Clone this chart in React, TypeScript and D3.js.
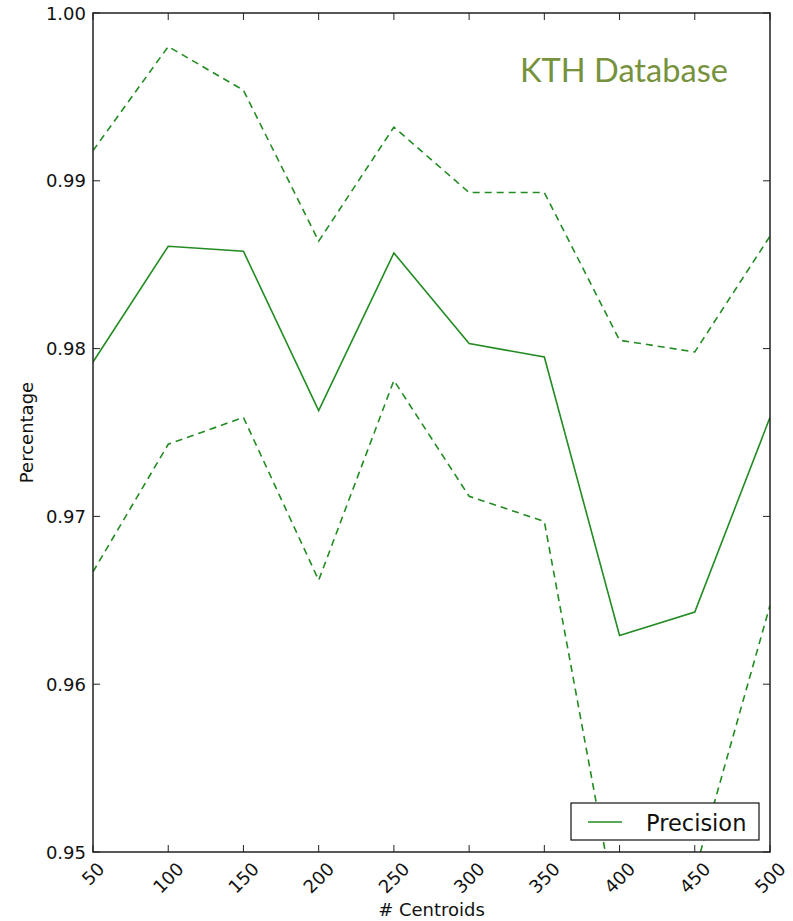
import React from "react";
import * as d3 from "d3";

const centroids = [50, 100, 150, 200, 250, 300, 350, 400, 450, 500];
const precisionMean = [0.9792, 0.9861, 0.9858, 0.9763, 0.9857, 0.9803, 0.9795, 0.9629, 0.9643, 0.9759];
const precisionUpper = [0.9918, 0.998, 0.9954, 0.9864, 0.9932, 0.9893, 0.9893, 0.9805, 0.9798, 0.9867];
const precisionLower = [0.9667, 0.9743, 0.9759, 0.9662, 0.9781, 0.9712, 0.9697, 0.9454, 0.9488, 0.9647];
const yTicks = [0.95, 0.96, 0.97, 0.98, 0.99, 1.0];
const xTicks = [50, 100, 150, 200, 250, 300, 350, 400, 450, 500];

const W = 793;
const H = 921;
const left = 93;
const right = 770;
const top = 13;
const bottom = 852;
const green = "#228b22";
const tickFont = "'DejaVu Sans', sans-serif";

export default function App() {
  const x = d3.scaleLinear().domain([50, 500]).range([left, right]);
  const y = d3.scaleLinear().domain([0.95, 1.0]).range([bottom, top]);
  const line = (vals: number[]) =>
    d3.line<number>().x((_, i) => x(centroids[i])).y((v) => y(v))(vals) || "";

  const tickLen = 7;
  return (
    <svg width={W} height={H} style={{ position: "absolute", left: 0, top: 0, background: "#fff" }}>
      <defs>
        <clipPath id="plotClip">
          <rect x={left} y={top} width={right - left} height={bottom - top} />
        </clipPath>
      </defs>
      <rect x={0} y={0} width={W} height={H} fill="#fff" />
      <g clipPath="url(#plotClip)">
        <path d={line(precisionUpper)} fill="none" stroke={green} strokeWidth={1.6} strokeDasharray="7,5" />
        <path d={line(precisionLower)} fill="none" stroke={green} strokeWidth={1.6} strokeDasharray="7,5" />
        <path d={line(precisionMean)} fill="none" stroke={green} strokeWidth={1.6} />
      </g>
      {/* ticks */}
      {yTicks.map((t) => (
        <g key={"y" + t}>
          <line x1={left} x2={left + tickLen} y1={y(t)} y2={y(t)} stroke="#222" strokeWidth={1} />
          <line x1={right} x2={right - tickLen} y1={y(t)} y2={y(t)} stroke="#222" strokeWidth={1} />
          <text x={86} y={y(t)} textAnchor="end" dominantBaseline="central" fontFamily={tickFont} fontSize={18} fill="#111">
            {t.toFixed(2)}
          </text>
        </g>
      ))}
      {xTicks.map((t) => {
        const label = String(t);
        const w = label.length * 11.45;
        const cy = 861 + (w / 2 + 6.5) * 0.7071;
        return (
          <g key={"x" + t}>
            <line x1={x(t)} x2={x(t)} y1={bottom} y2={bottom - tickLen} stroke="#222" strokeWidth={1} />
            <line x1={x(t)} x2={x(t)} y1={top} y2={top + tickLen} stroke="#222" strokeWidth={1} />
            <text
              transform={`translate(${x(t)},${cy}) rotate(-45)`}
              textAnchor="middle"
              dominantBaseline="central"
              fontFamily={tickFont}
              fontSize={18}
              fill="#111"
            >
              {label}
            </text>
          </g>
        );
      })}
      {/* frame */}
      <rect x={left} y={top} width={right - left} height={bottom - top} fill="none" stroke="#222" strokeWidth={1.5} />
      {/* axis labels */}
      <text x={(left + right) / 2} y={916} textAnchor="middle" fontFamily={tickFont} fontSize={18} fill="#111">
        # Centroids
      </text>
      <text
        transform={`translate(26,${(top + bottom) / 2}) rotate(-90)`}
        textAnchor="middle"
        dominantBaseline="central"
        fontFamily={tickFont}
        fontSize={18}
        fill="#111"
      >
        Percentage
      </text>
      {/* title */}
      <text x={520} y={82} fontFamily="Lato, 'Open Sans', sans-serif" fontSize={33} fill="#76923c" textLength={208} lengthAdjust="spacingAndGlyphs">
        KTH Database
      </text>
      {/* legend */}
      <g>
        <rect x={571} y={803} width={188} height={37} fill="#fff" stroke="#111" strokeWidth={1.2} />
        <line x1={588} x2={622} y1={822} y2={822} stroke={green} strokeWidth={1.6} />
        <text x={646} y={831} fontFamily={tickFont} fontSize={22.5} fill="#111">
          Precision
        </text>
      </g>
    </svg>
  );
}
